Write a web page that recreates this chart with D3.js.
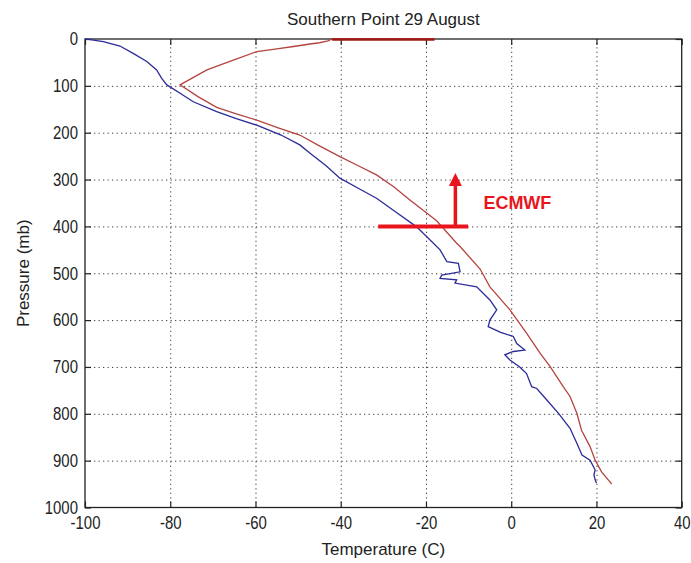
<!DOCTYPE html>
<html lang="en">
<head>
  <meta charset="utf-8">
  <title>Southern Point 29 August</title>
  <style>
    body {
      margin: 0;
      background: #fff;
    }
    svg text {
      font-family: "Liberation Sans", Arial, sans-serif;
      fill: #222;
    }
    .tick-label {
      font-family: "Liberation Sans", Arial, sans-serif;
      font-size: 18px;
    }
    .grid line {
      stroke: #444;
      stroke-width: 1;
      stroke-dasharray: 1.3, 3.2;
    }
    .grid path { display: none; }
    .ticks path { display: none; }
    .ticks line { stroke: #222; stroke-width: 1.2; }
  </style>
</head>
<body>
  <div id="chart"></div>

  <script src="https://d3js.org/d3.v7.min.js"></script>
  <script>
    // Axis ticks
    var tempTicks = [-100, -80, -60, -40, -20, 0, 20, 40];
    var presTicks = [0, 100, 200, 300, 400, 500, 600, 700, 800, 900, 1000];

    // Blue profile (temperature C, pressure mb)
    var obsT = [-100, -99.2, -95.7, -91.8, -88.7, -85.5, -83.2, -82, -80.8, -77.5, -74.6, -69.1, -64.5, -59.7,
      -54, -49.6, -47.2, -43.5, -40.2, -36, -31.6, -27, -22.2, -19.8, -16.7, -15.1, -12.4, -12, -16.3,
      -16.7, -12.8, -13.2, -8.1, -5, -3.4, -5, -5.4, -2.5, 0.5, 1.3, 3.2, 0.5, -1.5, -0.3, 2, 3.6,
      4.8, 6, 8.3, 11.1, 13.8, 15.4, 16.6, 18.5, 19.7, 19.4, 19.7, 20];
    var obsP = [0, 0.7, 5.7, 15, 30.6, 48, 66, 84, 98, 117, 134, 155, 170, 184,
      205, 226, 244, 270, 297, 318, 340, 370, 401, 422, 450, 475, 479, 497, 504,
      511, 514, 521, 529, 557, 578, 600, 614, 626, 635, 650, 664, 667, 674, 685, 700, 714,
      742, 746, 770, 799, 831, 863, 888, 899, 920, 930, 941, 948];

    // Red profile (temperature C, pressure mb)
    var modelT = [-18, -42, -43, -45, -47.2, -51.1, -55, -59.7, -65.2, -71.4, -77.7, -73.5, -69.1, -64.5,
      -59.7, -54.5, -49.6, -45, -40.2, -36, -31.6, -27.5, -23.7, -17.5, -12.8, -12, -7.3, -5,
      -0.3, 3.6, 6.8, 9.1, 12.2, 13.8, 15.4, 16.5, 18.5, 19.7, 21.2, 23.6];
    var modelP = [0, 0, 4, 8, 10.7, 16, 21, 27, 45, 66, 98, 123, 146, 160,
      173, 190, 205, 228, 251, 270, 290, 316, 344, 388, 436, 443, 491, 529,
      578, 628, 671, 699, 742, 763, 799, 835, 870, 899, 924, 950];

    // ECMWF annotation
    var markPres = 400;
    var markTemp = [-31.2, -10.1];
    var arrowTemp = -13.1;
    var arrowPres = [400, 286];
    var markLabel = "ECMWF";

    var margin = { top: 39, right: 9.3, bottom: 55.5, left: 85 };
    var totalW = 691, totalH = 563;
    var width = totalW - margin.left - margin.right;
    var height = totalH - margin.top - margin.bottom;

    // matlab style labels: plain hyphen minus, no thousands comma
    var plain = function(d) { return String(d); };
    var squeeze = "scale(0.83,1)";

    var svg = d3.select("#chart")
      .append("svg")
      .attr("width", totalW)
      .attr("height", totalH);

    var g = svg.append("g")
      .attr("transform", "translate(" + margin.left + "," + margin.top + ")");

    var x = d3.scaleLinear().domain([-100, 40]).range([0, width]);
    var y = d3.scaleLinear().domain([0, 1000]).range([0, height]);

    // Dotted grid
    g.append("g")
      .attr("class", "grid")
      .attr("transform", "translate(0," + height + ")")
      .call(d3.axisBottom(x).tickValues(tempTicks.slice(1, -1)).tickSize(-height).tickFormat(""));
    g.append("g")
      .attr("class", "grid")
      .call(d3.axisLeft(y).tickValues(presTicks.slice(1, -1)).tickSize(-width).tickFormat(""));

    // Frame
    g.append("rect")
      .attr("width", width)
      .attr("height", height)
      .attr("fill", "none")
      .attr("stroke", "#222")
      .attr("stroke-width", 1.3);

    // Ticks, inward on all four sides
    g.append("g")
      .attr("class", "ticks")
      .attr("transform", "translate(0," + height + ")")
      .call(d3.axisBottom(x).tickValues(tempTicks).tickSize(-6).tickPadding(9).tickFormat(plain))
      .selectAll("text")
      .attr("class", "tick-label")
      .attr("transform", squeeze)
      .attr("fill", "#222");
    g.append("g")
      .attr("class", "ticks")
      .call(d3.axisTop(x).tickValues(tempTicks).tickSize(-6).tickFormat(""));
    g.append("g")
      .attr("class", "ticks")
      .call(d3.axisLeft(y).tickValues(presTicks).tickSize(-6).tickPadding(8.5).tickFormat(plain))
      .selectAll("text")
      .attr("class", "tick-label")
      .attr("transform", squeeze)
      .attr("fill", "#222");
    g.append("g")
      .attr("class", "ticks")
      .attr("transform", "translate(" + width + ",0)")
      .call(d3.axisRight(y).tickValues(presTicks).tickSize(-6).tickFormat(""));

    // Profiles
    var line = d3.line()
      .x(function(d) { return x(d[0]); })
      .y(function(d) { return y(d[1]); });

    g.append("path")
      .datum(modelT.map(function(t, i) { return [t, modelP[i]]; }))
      .attr("fill", "none")
      .attr("stroke", "#b5443f")
      .attr("stroke-width", 1.3)
      .attr("d", line);

    // the red profile's top segment sits on the frame and reads darker and thicker
    g.append("line")
      .attr("x1", x(modelT[0]))
      .attr("x2", x(modelT[1]))
      .attr("y1", y(modelP[0]) + 0.5)
      .attr("y2", y(modelP[1]) + 0.5)
      .attr("stroke", "#9e1a16")
      .attr("stroke-width", 2.6);

    g.append("path")
      .datum(obsT.map(function(t, i) { return [t, obsP[i]]; }))
      .attr("fill", "none")
      .attr("stroke", "#2b2b9a")
      .attr("stroke-width", 1.3)
      .attr("d", line);

    // Annotation
    var red = "#e8161c";
    g.append("line")
      .attr("x1", x(markTemp[0]))
      .attr("x2", x(markTemp[1]))
      .attr("y1", y(markPres))
      .attr("y2", y(markPres))
      .attr("stroke", red)
      .attr("stroke-width", 4);
    g.append("line")
      .attr("x1", x(arrowTemp))
      .attr("x2", x(arrowTemp))
      .attr("y1", y(arrowPres[0]))
      .attr("y2", y(arrowPres[1]) + 12)
      .attr("stroke", red)
      .attr("stroke-width", 3.5);
    g.append("path")
      .attr("d", "M" + (x(arrowTemp) - 6.5) + "," + (y(arrowPres[1]) + 13) +
        "L" + x(arrowTemp) + "," + y(arrowPres[1]) +
        "L" + (x(arrowTemp) + 6.5) + "," + (y(arrowPres[1]) + 13) + "Z")
      .attr("fill", red);
    g.append("text")
      .attr("x", x(arrowTemp) + 28)
      .attr("y", y(349))
      .attr("dy", "0.36em")
      .style("fill", red)
      .style("font-weight", "bold")
      .style("font-size", "18px")
      .text(markLabel);

    // Title and axis labels
    svg.append("text")
      .attr("x", margin.left + width / 2)
      .attr("y", 25)
      .attr("text-anchor", "middle")
      .style("font-size", "17px")
      .text("Southern Point 29 August");

    svg.append("text")
      .attr("x", margin.left + width / 2)
      .attr("y", 555)
      .attr("text-anchor", "middle")
      .style("font-size", "17px")
      .text("Temperature (C)");

    svg.append("text")
      .attr("transform", "translate(29," + (margin.top + height / 2) + ") rotate(-90)")
      .attr("text-anchor", "middle")
      .style("font-size", "17px")
      .text("Pressure (mb)");
  </script>
</body>
</html>
